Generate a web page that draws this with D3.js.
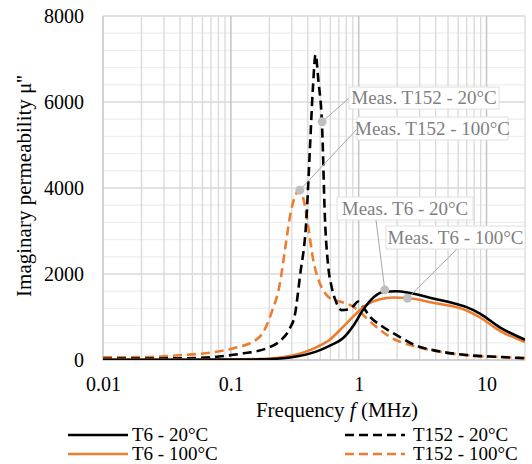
<!DOCTYPE html>
<html>
<head>
<meta charset="utf-8">
<script src="https://cdn.jsdelivr.net/npm/d3@7"></script>
<style>
  body { margin: 0; background: #fff; }
</style>
</head>
<body>
<svg id="chart" width="532" height="464"></svg>
<script>
// Frequency (MHz) / imaginary permeability pairs
const t6_20_f   = [0.01, 0.05, 0.1, 0.17, 0.29, 0.47, 0.59, 0.757, 0.905, 1.08, 1.3, 1.55, 1.98, 2.51, 3.82, 5.82, 6.98, 8.88, 12.7, 20];
const t6_20_mu  = [5, 5, 8, 15, 60, 200, 330, 510, 790, 1160, 1450, 1580, 1600, 1560, 1430, 1300, 1230, 1080, 760, 470];

const t6_100_f  = [0.01, 0.05, 0.1, 0.17, 0.29, 0.47, 0.59, 0.757, 0.96, 1.15, 1.47, 1.86, 2.42, 3.82, 6.98, 8.88, 12.7, 20];
const t6_100_mu = [8, 8, 12, 22, 90, 300, 465, 775, 1085, 1280, 1410, 1455, 1440, 1330, 1150, 990, 680, 420];

const t152_20_f  = [0.01, 0.042, 0.0775, 0.125, 0.19, 0.242, 0.29, 0.317, 0.347, 0.391, 0.415, 0.438, 0.46, 0.484, 0.518, 0.544, 0.578, 0.614, 0.672, 0.735, 0.804, 0.905, 0.99, 1.08, 1.22, 1.47, 1.98, 2.84, 3.82, 6.98, 12.7, 20];
const t152_20_mu = [30, 40, 77, 155, 270, 440, 740, 1050, 1940, 3330, 4885, 6300, 7100, 6500, 5400, 3330, 2170, 1705, 1320, 1160, 1170, 1250, 1360, 1240, 1010, 815, 580, 330, 230, 116, 70, 40];

const t152_100_f  = [0.01, 0.0233, 0.0425, 0.0687, 0.104, 0.159, 0.175, 0.208, 0.242, 0.265, 0.29, 0.317, 0.347, 0.373, 0.403, 0.441, 0.497, 0.561, 0.632, 0.713, 0.853, 1.02, 1.19, 1.47, 1.75, 2.84, 3.82, 6.98, 12.7, 20];
const t152_100_mu = [60, 70, 116, 170, 270, 480, 600, 1100, 1780, 2560, 3330, 3800, 3950, 3700, 3100, 2330, 1780, 1510, 1400, 1360, 1280, 1125, 930, 700, 540, 310, 220, 110, 70, 50];

const seriesNames  = ["T6 - 20°C", "T6 - 100°C", "T152 - 20°C", "T152 - 100°C"];
const seriesColors = ["#000000", "#ED7D31", "#000000", "#ED7D31"];
const seriesDashed = [false, false, true, true];

// Callouts: point on the curve and its label
const calloutText = ["Meas. T152 - 20°C", "Meas. T152 - 100°C", "Meas. T6 - 20°C", "Meas. T6 - 100°C"];
const calloutF    = [0.518, 0.346, 1.6, 2.41];
const calloutMu   = [5540, 3950, 1630, 1435];

const xTicks = [0.01, 0.1, 1, 10];
const yTicks = [0, 2000, 4000, 6000, 8000];

const serif = "Liberation Serif";
const svg = d3.select("#chart");
const plotLeft = 103, plotRight = 525, plotTop = 16, plotBottom = 360;

const x = d3.scaleLog().domain([0.01, 20]).range([plotLeft, plotRight]);
const y = d3.scaleLinear().domain([0, 8000]).range([plotBottom, plotTop]);

// Grid lines
const minorX = [];
for (let d = 0.01; d < 20; d *= 10) {
  for (let k = 2; k <= 9; k++) if (d * k <= 20.001) minorX.push(d * k);
}
const grid = svg.append("g");
grid.selectAll(".hminor").data(d3.range(0, 8001, 400).filter(v => v % 2000 !== 0))
  .enter().append("line")
  .attr("x1", plotLeft).attr("x2", plotRight)
  .attr("y1", d => y(d)).attr("y2", d => y(d))
  .attr("stroke", "#eeeeee").attr("stroke-width", 1.3);
grid.selectAll(".vminor").data(minorX)
  .enter().append("line")
  .attr("x1", d => x(d)).attr("x2", d => x(d))
  .attr("y1", plotTop).attr("y2", plotBottom)
  .attr("stroke", "#d9d9d9").attr("stroke-width", 1.3);
grid.selectAll(".hmajor").data(yTicks.filter(v => v > 0))
  .enter().append("line")
  .attr("x1", plotLeft).attr("x2", plotRight)
  .attr("y1", d => y(d)).attr("y2", d => y(d))
  .attr("stroke", "#d9d9d9").attr("stroke-width", 1.5);
grid.selectAll(".vmajor").data(xTicks)
  .enter().append("line")
  .attr("x1", d => x(d)).attr("x2", d => x(d))
  .attr("y1", plotTop).attr("y2", plotBottom)
  .attr("stroke", "#c4c4c4").attr("stroke-width", 1.5);
grid.append("line")
  .attr("x1", plotLeft).attr("x2", plotRight).attr("y1", plotBottom).attr("y2", plotBottom)
  .attr("stroke", "#bfbfbf").attr("stroke-width", 1.5);

// Axes
const xAxis = svg.append("g").attr("transform", `translate(0,${plotBottom})`)
  .call(d3.axisBottom(x).tickValues(xTicks).tickSize(0).tickPadding(17)
    .tickFormat(d => d3.format("~g")(d)));
xAxis.select(".domain").remove();
xAxis.attr("font-family", serif).attr("font-size", 20);
xAxis.selectAll("text").attr("fill", "#000");

const yAxis = svg.append("g").attr("transform", `translate(${plotLeft},0)`)
  .call(d3.axisLeft(y).tickValues(yTicks).tickSize(0).tickPadding(19)
    .tickFormat(d3.format("d")));
yAxis.select(".domain").remove();
yAxis.attr("font-family", serif).attr("font-size", 20);
yAxis.selectAll("text").attr("fill", "#000");

// Axis titles
const xTitle = svg.append("text").attr("x", 337).attr("y", 417)
  .attr("text-anchor", "middle").attr("font-size", 21).attr("font-family", serif);
xTitle.append("tspan").text("Frequency ");
xTitle.append("tspan").attr("font-style", "italic").text("f");
xTitle.append("tspan").text(" (MHz)");

svg.append("text")
  .attr("transform", "translate(31,186) rotate(-90)")
  .attr("text-anchor", "middle").attr("font-size", 21).attr("font-family", serif)
  .text("Imaginary permeability μ''");

// Curves
svg.append("clipPath").attr("id", "plotClip").append("rect")
  .attr("x", plotLeft).attr("y", plotTop - 5)
  .attr("width", plotRight - plotLeft).attr("height", plotBottom - plotTop + 5);

const allF  = [t6_20_f, t6_100_f, t152_20_f, t152_100_f];
const allMu = [t6_20_mu, t6_100_mu, t152_20_mu, t152_100_mu];
const series = seriesNames.map((name, i) => ({
  name, color: seriesColors[i], dashed: seriesDashed[i],
  values: allF[i].map((f, j) => ({ f, mu: allMu[i][j] }))
}));

const line = d3.line()
  .x(d => x(d.f)).y(d => y(d.mu))
  .curve(d3.curveMonotoneX);

// draw orange under black like the reference
const drawOrder = [3, 2, 1, 0];
svg.append("g").attr("clip-path", "url(#plotClip)")
  .selectAll("path").data(drawOrder.map(i => series[i]))
  .enter().append("path")
  .attr("d", d => line(d.values))
  .attr("fill", "none")
  .attr("stroke", d => d.color)
  .attr("stroke-width", 2.6)
  .attr("stroke-dasharray", d => d.dashed ? "9,5" : null);

// Callouts
const calloutBox = [
  { x: 349, y: 87, w: 150, h: 22 },
  { x: 357, y: 117, w: 151, h: 23 },
  { x: 337, y: 197, w: 136, h: 23 },
  { x: 386, y: 226, w: 139, h: 23 }
];
const calloutEnd = [[349, 98], [357, 129], [376, 220], [457, 249]];

const callouts = svg.append("g");
calloutText.forEach((t, i) => {
  const px = x(calloutF[i]), py = y(calloutMu[i]);
  const b = calloutBox[i];
  callouts.append("line")
    .attr("x1", px).attr("y1", py)
    .attr("x2", calloutEnd[i][0]).attr("y2", calloutEnd[i][1])
    .attr("stroke", "#a6a6a6").attr("stroke-width", 1);
  callouts.append("rect")
    .attr("x", b.x).attr("y", b.y).attr("width", b.w).attr("height", b.h)
    .attr("fill", "#fff").attr("stroke", "#e0e0e0").attr("stroke-width", 1);
  callouts.append("text")
    .attr("x", b.x + b.w / 2).attr("y", b.y + b.h / 2 + 6)
    .attr("text-anchor", "middle").attr("font-size", 19).attr("font-family", serif)
    .attr("fill", "#7f7f7f")
    .text(t);
  callouts.append("circle")
    .attr("cx", px).attr("cy", py).attr("r", 4.5).attr("fill", "#bfbfbf");
});

// Legend
const legendPos = [
  { lx: 68, ly: 435 }, { lx: 68, ly: 454 },
  { lx: 345, ly: 435 }, { lx: 345, ly: 454 }
];
const legend = svg.append("g");
series.forEach((s, i) => {
  const p = legendPos[i];
  legend.append("line")
    .attr("x1", p.lx).attr("x2", p.lx + 60).attr("y1", p.ly).attr("y2", p.ly)
    .attr("stroke", s.color).attr("stroke-width", 2.6)
    .attr("stroke-dasharray", s.dashed ? "9,5" : null);
  legend.append("text")
    .attr("x", p.lx + (s.dashed ? 68 : 64)).attr("y", p.ly + 5.5)
    .attr("font-size", 19).attr("font-family", serif).attr("fill", "#000")
    .text(s.name);
});
</script>
</body>
</html>
